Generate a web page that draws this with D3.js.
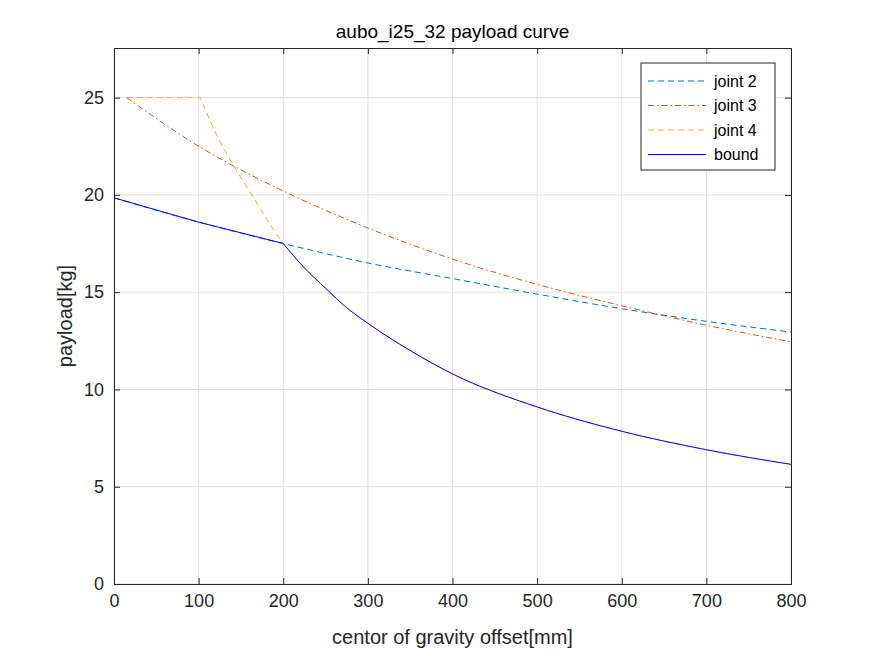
<!DOCTYPE html>
<html><head><meta charset="utf-8">
<script src="https://cdn.jsdelivr.net/npm/d3@7"></script>
<style>body{margin:0;background:#fff}svg{font-family:"Liberation Sans",Arial,sans-serif}</style>
</head><body><svg id="c" width="875" height="656"></svg>
<script>
const xTicks=[0,100,200,300,400,500,600,700,800];
const yTicks=[0,5,10,15,20,25];
const j2x=[0,100,200,300,400,500,600,700,800];
const j2y=[19.85,18.6,17.5,16.5,15.7,14.9,14.15,13.5,12.95];
const j3x=[15,100,200,300,400,500,600,700,800];
const j3y=[25,22.5,20.2,18.3,16.7,15.4,14.3,13.3,12.45];
const j4x=[15,102,120,140,160,180,200,225,250,275,300,350,400,500,600,700,800];
const j4y=[25,25,23.2,21.6,20.2,18.8,17.5,16.25,15.2,14.2,13.4,12.0,10.8,9.1,7.85,6.9,6.15];
const boundX=[0,100,200,225,250,275,300,350,400,500,600,700,800];
const boundY=[19.85,18.6,17.5,16.25,15.2,14.2,13.4,12.0,10.8,9.1,7.85,6.9,6.15];

const svg=d3.select("#c");
const L=114,R=791,T=48,B=584;
const x=d3.scaleLinear().domain([0,800]).range([L,R]);
const y=d3.scaleLinear().domain([0,27.55]).range([B,T]);
const g=svg.append("g");
g.selectAll(".gx").data(xTicks).join("line").attr("x1",d=>x(d)).attr("x2",d=>x(d)).attr("y1",T).attr("y2",B).attr("stroke","#dfdfdf");
g.selectAll(".gy").data(yTicks).join("line").attr("y1",d=>y(d)).attr("y2",d=>y(d)).attr("x1",L).attr("x2",R).attr("stroke","#dfdfdf");
function path(xs,ys,splitX){
  const pts=xs.map((v,i)=>[v,ys[i]]);
  const a=pts.filter(p=>p[0]<=splitX), b=pts.filter(p=>p[0]>=splitX);
  const lin=d3.line().x(p=>x(p[0])).y(p=>y(p[1]));
  const mon=d3.line().curve(d3.curveMonotoneX).x(p=>x(p[0])).y(p=>y(p[1]));
  return lin(a)+mon(b).replace(/^M/,"L");
}
svg.append("path").attr("d",path(j2x,j2y,0)).attr("fill","none").attr("stroke","#0072BD").attr("stroke-dasharray","6,4");
svg.append("path").attr("d",path(j3x,j3y,15)).attr("fill","none").attr("stroke","#D95319").attr("stroke-dasharray","6,3,1.5,3");
svg.append("path").attr("d",path(j4x,j4y,102)).attr("fill","none").attr("stroke","#EDB120").attr("stroke-dasharray","6,4");
svg.append("path").attr("d",path(boundX,boundY,200)).attr("fill","none").attr("stroke","#0000FF");
const ax=svg.append("g").attr("transform",`translate(0,${B})`).call(d3.axisBottom(x).tickValues(xTicks).tickSize(-6).tickPadding(10));
const axT=svg.append("g").attr("transform",`translate(0,${T})`).call(d3.axisTop(x).tickValues(xTicks).tickSize(-6).tickFormat(""));
const ay=svg.append("g").attr("transform",`translate(${L},0)`).call(d3.axisLeft(y).tickValues(yTicks).tickSize(-6).tickPadding(10));
const ayR=svg.append("g").attr("transform",`translate(${R},0)`).call(d3.axisRight(y).tickValues(yTicks).tickSize(-6).tickFormat(""));
[ax,axT,ay,ayR].forEach(a=>{a.selectAll("path,line").attr("stroke","#262626");a.selectAll("text").attr("fill","#262626").attr("font-size",18).style("font-family","Liberation Sans, Arial");});
svg.append("text").attr("x",(L+R)/2).attr("y",38).attr("text-anchor","middle").attr("font-size",19).attr("fill","#000").text("aubo_i25_32 payload curve");
svg.append("text").attr("x",(L+R)/2).attr("y",644).attr("text-anchor","middle").attr("font-size",20).attr("fill","#262626").text("centor of gravity offset[mm]");
svg.append("text").attr("transform","translate(72,316) rotate(-90)").attr("text-anchor","middle").attr("font-size",20).attr("fill","#262626").text("payload[kg]");
const lg=svg.append("g");
lg.append("rect").attr("x",641).attr("y",63).attr("width",134).attr("height",107).attr("fill","#fff").attr("stroke","#262626");
const items=[["joint 2","#0072BD","6,4"],["joint 3","#D95319","6,3,1.5,3"],["joint 4","#EDB120","6,4"],["bound","#0000FF",null]];
items.forEach((it,i)=>{const yy=81+i*24.5;
 const l=lg.append("line").attr("x1",648).attr("x2",706).attr("y1",yy).attr("y2",yy).attr("stroke",it[1]);
 if(it[2])l.attr("stroke-dasharray",it[2]);
 lg.append("text").attr("x",714).attr("y",yy+5.5).attr("font-size",16).attr("fill","#000").text(it[0]);});
</script></body></html>
